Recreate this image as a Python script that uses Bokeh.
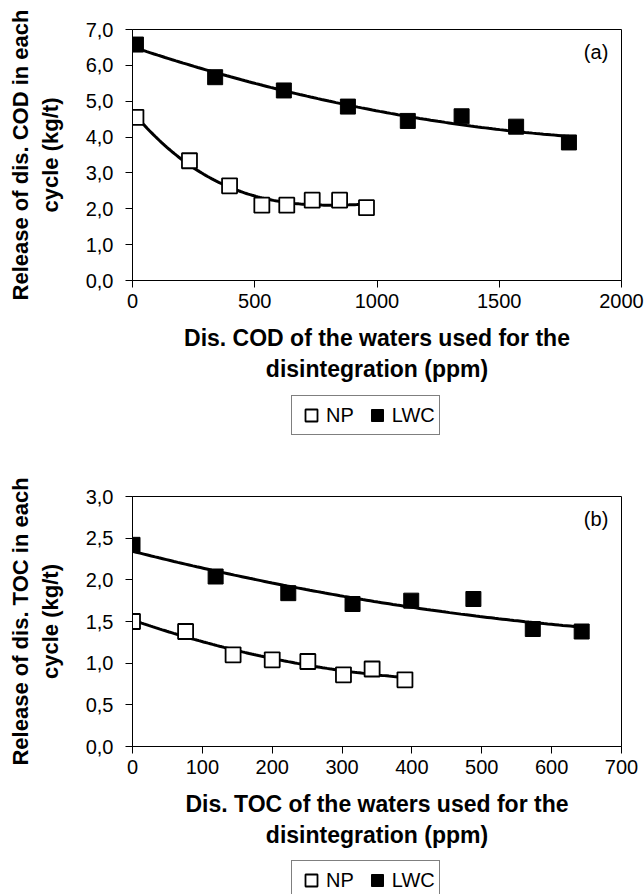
import numpy as np
from bokeh.plotting import figure
from bokeh.layouts import column
from bokeh.models import (Legend, LegendItem, FixedTicker, Label, Range1d,
                          CustomJSTickFormatter)
from bokeh.embed import file_html
from bokeh.resources import INLINE

# ---------------- data ----------------
# (a) dissolved COD
cod_np_x = [14, 233, 397, 529, 631, 735, 847, 957]
cod_np_y = [4.55, 3.34, 2.64, 2.10, 2.10, 2.24, 2.24, 2.03]
cod_lwc_x = [14, 338, 619, 881, 1126, 1346, 1569, 1785]
cod_lwc_y = [6.58, 5.67, 5.30, 4.85, 4.45, 4.58, 4.29, 3.85]
cod_x_ticks = [0, 500, 1000, 1500, 2000]
cod_y_ticks = [0, 1, 2, 3, 4, 5, 6, 7]

# (b) dissolved TOC
toc_np_x = [0, 76, 144, 200, 251, 302, 343, 390]
toc_np_y = [1.50, 1.38, 1.10, 1.04, 1.02, 0.86, 0.93, 0.80]
toc_lwc_x = [0, 119, 223, 315, 399, 488, 573, 643]
toc_lwc_y = [2.42, 2.04, 1.84, 1.71, 1.75, 1.77, 1.41, 1.38]
toc_x_ticks = [0, 100, 200, 300, 400, 500, 600, 700]
toc_y_ticks = [0, 0.5, 1.0, 1.5, 2.0, 2.5, 3.0]

series_names = ["NP", "LWC"]

FONT = "Liberation Sans"
W = 644


def trend(x, y, deg):
    c = np.polyfit(x, y, deg)
    xs = np.linspace(min(x), max(x), 120)
    return xs, np.polyval(c, xs)


def make_fig(height, top, bottom, np_x, np_y, np_deg, lwc_x, lwc_y, lwc_deg,
             x_ticks, y_ticks, xlabel, ylabel, tag):
    p = figure(width=W, height=height,
               x_range=Range1d(x_ticks[0], x_ticks[-1]),
               y_range=Range1d(y_ticks[0], y_ticks[-1]),
               output_backend="svg", toolbar_location=None,
               min_border_left=132, min_border_right=23,
               min_border_top=top, min_border_bottom=bottom)
    p.grid.visible = False
    p.outline_line_color = "black"
    p.outline_line_width = 1
    p.background_fill_color = "white"
    p.border_fill_color = "white"

    for ax in (p.xaxis[0], p.yaxis[0]):
        ax.axis_line_color = "black"
        ax.major_tick_line_color = "black"
        ax.major_tick_out = 7
        ax.major_tick_in = 0
        ax.minor_tick_line_color = None
        ax.major_label_text_font = FONT
        ax.major_label_text_font_size = "20px"
        ax.major_label_text_color = "black"
        ax.axis_label_text_font = FONT
        ax.axis_label_text_font_style = "bold"
        ax.axis_label_text_color = "black"

    p.xaxis.axis_label_text_font_size = "23px"
    p.yaxis.axis_label_text_font_size = "22px"
    p.xaxis.ticker = FixedTicker(ticks=x_ticks)
    p.yaxis.ticker = FixedTicker(ticks=y_ticks)
    p.yaxis.formatter = CustomJSTickFormatter(
        code="return tick.toFixed(1).replace('.', ',');")
    p.xaxis.major_label_standoff = 6
    p.yaxis.major_label_standoff = 12
    p.xaxis.axis_label = xlabel
    p.yaxis.axis_label = ylabel
    p.xaxis.axis_label_standoff = 14
    p.yaxis.axis_label_standoff = 20

    tx, ty = trend(np_x, np_y, np_deg)
    p.line(tx, ty, line_color="black", line_width=3)
    tx, ty = trend(lwc_x, lwc_y, lwc_deg)
    p.line(tx, ty, line_color="black", line_width=3)

    p.scatter(np_x, np_y, marker="square", size=15,
              fill_color="white", line_color="black", line_width=1.8)
    p.scatter(lwc_x, lwc_y, marker="square", size=15,
              fill_color="black", line_color="black")

    p.add_layout(Label(x=x_ticks[-1] * 0.973, y=y_ticks[-1] * 0.91, text=tag,
                       text_align="right", text_baseline="middle",
                       text_font=FONT, text_font_size="20px",
                       text_color="black"))
    return p


def make_legend(height, loc_y, np_x, np_y, lwc_x, lwc_y):
    # legend-only strip; its ranges lie outside the data so that the
    # series' marks themselves are not shown here, only their legend keys
    lf = figure(width=W, height=height, x_range=Range1d(-2, -1),
                y_range=Range1d(-2, -1), output_backend="svg",
                toolbar_location=None, x_axis_location=None,
                y_axis_location=None, min_border=0)
    lf.grid.visible = False
    lf.outline_line_color = None
    lf.background_fill_color = "white"
    lf.border_fill_color = "white"
    r_np = lf.scatter(np_x, np_y, marker="square", fill_color="white",
                      line_color="black", line_width=1.8)
    r_lwc = lf.scatter(lwc_x, lwc_y, marker="square", fill_color="black",
                       line_color="black")
    leg = Legend(items=[LegendItem(label=series_names[0], renderers=[r_np]),
                        LegendItem(label=series_names[1], renderers=[r_lwc])],
                 orientation="horizontal", location=(159, loc_y))
    leg.glyph_width = 30
    leg.glyph_height = 30
    leg.label_standoff = 0
    leg.spacing = 8
    leg.padding = 4
    leg.margin = 0
    leg.border_line_color = "black"
    leg.border_line_width = 1
    leg.background_fill_color = "white"
    leg.label_text_font = FONT
    leg.label_text_font_size = "20px"
    leg.label_text_color = "black"
    lf.add_layout(leg, "center")
    return lf


p1 = make_fig(390, 29, 110, cod_np_x, cod_np_y, 3, cod_lwc_x, cod_lwc_y, 2,
              cod_x_ticks, cod_y_ticks,
              "Dis. COD of the waters used for the\ndisintegration (ppm)",
              "Release of dis. COD in each\ncycle (kg/t)", "(a)")
l1 = make_legend(84, 39, cod_np_x, cod_np_y, cod_lwc_x, cod_lwc_y)
p2 = make_fig(382, 22, 110, toc_np_x, toc_np_y, 2, toc_lwc_x, toc_lwc_y, 2,
              toc_x_ticks, toc_y_ticks,
              "Dis. TOC of the waters used for the\ndisintegration (ppm)",
              "Release of dis. TOC in each\ncycle (kg/t)", "(b)")
l2 = make_legend(38, -6, toc_np_x, toc_np_y, toc_lwc_x, toc_lwc_y)

layout = column(p1, l1, p2, l2, spacing=0)
open("out.html", "w").write(file_html(layout, INLINE))
